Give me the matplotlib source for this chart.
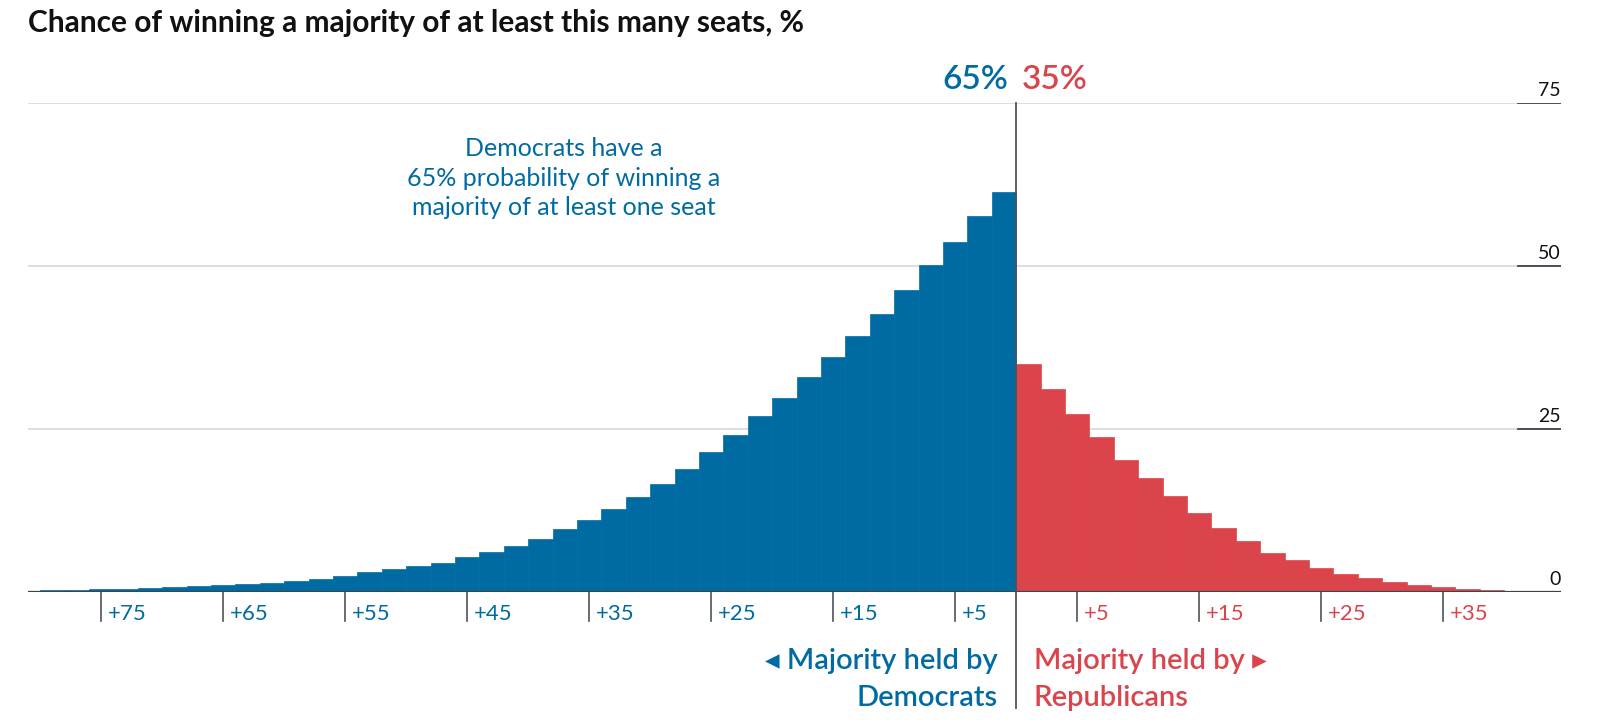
import matplotlib.pyplot as plt
import matplotlib.transforms as mtransforms

plt.rcParams['font.family'] = ['Lato', 'DejaVu Sans']

# Chance (%) of a majority of at least this many seats, one bar per odd margin
dem_margin = list(range(1, 82, 2))
dem_pct = [61.4, 57.6, 53.7, 50.1, 46.3, 42.6, 39.2, 36.0, 32.9, 29.8,
           27.0, 24.1, 21.4, 18.8, 16.6, 14.6, 12.7, 11.1, 9.6, 8.2,
           7.0, 6.1, 5.3, 4.5, 4.0, 3.5, 3.0, 2.5, 2.0, 1.7,
           1.45, 1.3, 1.1, 0.9, 0.7, 0.55, 0.45, 0.4, 0.3, 0.25, 0.2]
rep_margin = list(range(1, 42, 2))
rep_pct = [34.9, 31.1, 27.35, 23.7, 20.3, 17.5, 14.7, 12.1, 9.8, 7.8,
           6.0, 4.9, 3.7, 2.8, 2.1, 1.6, 1.1, 0.7, 0.5, 0.3, 0.15]

dem_total = 65
rep_total = 35

dem_ticks = [75, 65, 55, 45, 35, 25, 15, 5]
rep_ticks = [5, 15, 25, 35]
y_ticks = [0, 25, 50, 75]

BLUE = '#006BA2'
RED = '#DB444B'
DARK = '#3b454d'
GRID = '#d3d9de'

W, H = 1614, 720
fig = plt.figure(figsize=(W / 100, H / 100), dpi=100)
ax = fig.add_axes([28 / W, 1 - 592 / H, 1533 / W, (592 - 103) / H])
ax.set_xlim(-81, 44.65)
ax.set_ylim(0, 75)
ax.axis('off')

# gridlines and right-hand tick marks
for v in y_ticks[1:]:
    ax.axhline(v, xmin=0, xmax=1, color=GRID, lw=1.2, zorder=0)
for v in y_ticks:
    ax.axhline(v, xmin=0.972, xmax=1, color=DARK, lw=1.3, zorder=3)
    ax.annotate(str(v), xy=(1.0, v), xycoords=('axes fraction', 'data'),
                xytext=(0, 3), textcoords='offset points',
                ha='right', va='bottom', fontsize=14, color='#111111')

# bars (each margin covers two seats)
ax.bar([-m for m in dem_margin], dem_pct, width=2, color=BLUE,
       edgecolor=BLUE, linewidth=0.5, zorder=2)
ax.bar(rep_margin, rep_pct, width=2, color=RED,
       edgecolor=RED, linewidth=0.5, zorder=2)

# baseline
ax.axhline(0, color=DARK, lw=1.6, zorder=3)

# divider
trans = mtransforms.blended_transform_factory(ax.transData, ax.transAxes)
ax.plot([0, 0], [-0.237, 1.0], transform=trans, color='#4a545b',
        lw=1.3, clip_on=False, zorder=4)

# x ticks
for t in dem_ticks:
    ax.plot([-t, -t], [0, -0.059], transform=trans, color='#4a545b',
            lw=1.2, clip_on=False)
    ax.annotate(f'+{t}', xy=(-t, -0.046), xycoords=trans,
                xytext=(5, 0), textcoords='offset points',
                ha='left', va='center', fontsize=16, color=BLUE)
for t in rep_ticks:
    ax.plot([t, t], [0, -0.059], transform=trans, color='#4a545b',
            lw=1.2, clip_on=False)
    ax.annotate(f'+{t}', xy=(t, -0.046), xycoords=trans,
                xytext=(5, 0), textcoords='offset points',
                ha='left', va='center', fontsize=16, color=RED)

# title
fig.text(28 / W, 1 - 23 / H,
         'Chance of winning a majority of at least this many seats, %',
         ha='left', va='center', fontsize=21.5, fontweight='bold',
         color='#111111')

# totals above the divider
fig.text(1008 / W, 1 - 80 / H, f'{dem_total}%', ha='right', va='center',
         fontsize=24, fontweight='semibold', color=BLUE)
fig.text(1022 / W, 1 - 80 / H, f'{rep_total}%', ha='left', va='center',
         fontsize=24, fontweight='semibold', color=RED)

# annotation
fig.text(564 / W, 1 - 178 / H,
         'Democrats have a\n65% probability of winning a\nmajority of at least one seat',
         ha='center', va='center', fontsize=18, color=BLUE,
         linespacing=1.35, multialignment='center')

# bottom labels
fig.text(998 / W, 1 - 661 / H, '\u25c2 Majority held by', ha='right',
         va='center', fontsize=21, fontweight='semibold', color=BLUE)
fig.text(998 / W, 1 - 698 / H, 'Democrats', ha='right',
         va='center', fontsize=21, fontweight='semibold', color=BLUE)
fig.text(1034 / W, 1 - 661 / H, 'Majority held by \u25b8', ha='left',
         va='center', fontsize=21, fontweight='semibold', color=RED)
fig.text(1034 / W, 1 - 698 / H, 'Republicans', ha='left',
         va='center', fontsize=21, fontweight='semibold', color=RED)

fig.savefig('out.png', dpi=100, facecolor='white')
